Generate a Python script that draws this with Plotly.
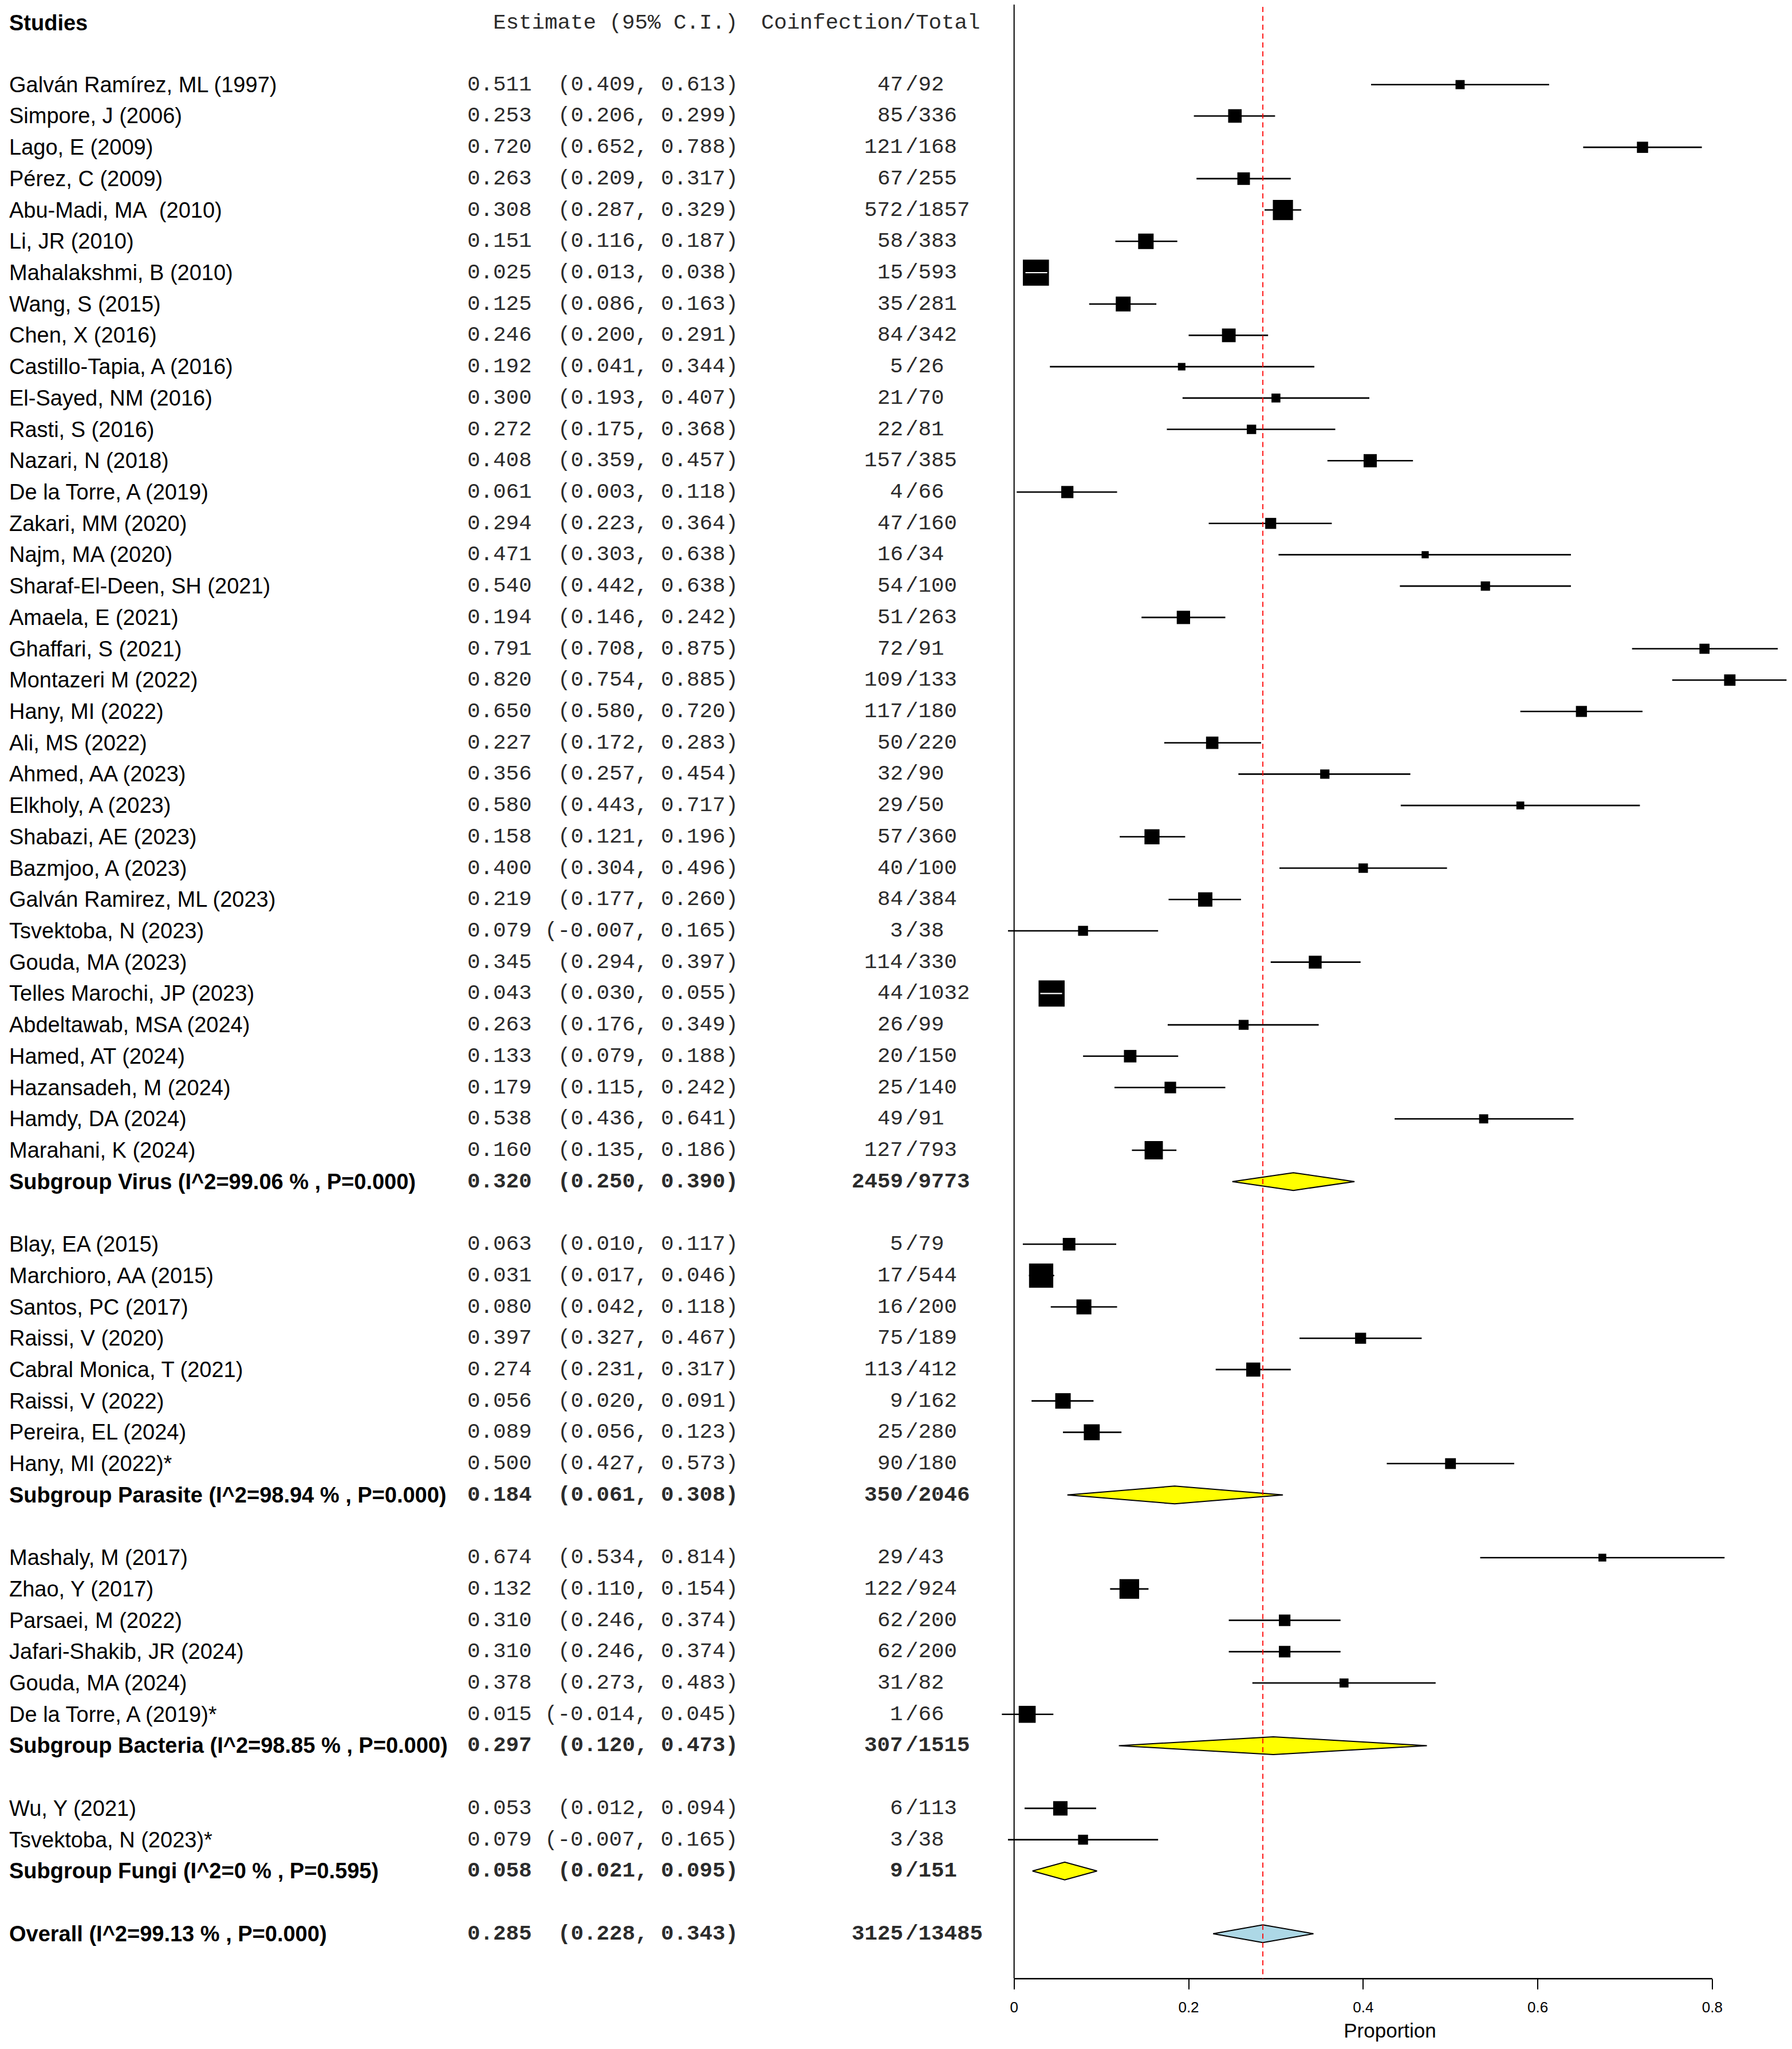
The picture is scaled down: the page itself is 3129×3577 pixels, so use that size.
import plotly.graph_objects as go

# ---------------- data ----------------
virus_names = [
    "Galván Ramírez, ML (1997)", "Simpore, J (2006)", "Lago, E (2009)", "Pérez, C (2009)",
    "Abu-Madi, MA\u00a0 (2010)", "Li, JR (2010)", "Mahalakshmi, B (2010)", "Wang, S (2015)",
    "Chen, X (2016)", "Castillo-Tapia, A (2016)", "El-Sayed, NM (2016)", "Rasti, S (2016)",
    "Nazari, N (2018)", "De la Torre, A (2019)", "Zakari, MM (2020)", "Najm, MA (2020)",
    "Sharaf-El-Deen, SH (2021)", "Amaela, E (2021)", "Ghaffari, S (2021)", "Montazeri M (2022)",
    "Hany, MI (2022)", "Ali, MS (2022)", "Ahmed, AA (2023)", "Elkholy, A (2023)",
    "Shabazi, AE (2023)", "Bazmjoo, A (2023)", "Galván Ramirez, ML (2023)", "Tsvektoba, N (2023)",
    "Gouda, MA (2023)", "Telles Marochi, JP (2023)", "Abdeltawab, MSA (2024)", "Hamed, AT (2024)",
    "Hazansadeh, M (2024)", "Hamdy, DA (2024)", "Marahani, K (2024)",
]
virus_est = [0.511, 0.253, 0.720, 0.263, 0.308, 0.151, 0.025, 0.125, 0.246, 0.192, 0.300, 0.272,
             0.408, 0.061, 0.294, 0.471, 0.540, 0.194, 0.791, 0.820, 0.650, 0.227, 0.356, 0.580,
             0.158, 0.400, 0.219, 0.079, 0.345, 0.043, 0.263, 0.133, 0.179, 0.538, 0.160]
virus_lo = [0.409, 0.206, 0.652, 0.209, 0.287, 0.116, 0.013, 0.086, 0.200, 0.041, 0.193, 0.175,
            0.359, 0.003, 0.223, 0.303, 0.442, 0.146, 0.708, 0.754, 0.580, 0.172, 0.257, 0.443,
            0.121, 0.304, 0.177, -0.007, 0.294, 0.030, 0.176, 0.079, 0.115, 0.436, 0.135]
virus_hi = [0.613, 0.299, 0.788, 0.317, 0.329, 0.187, 0.038, 0.163, 0.291, 0.344, 0.407, 0.368,
            0.457, 0.118, 0.364, 0.638, 0.638, 0.242, 0.875, 0.885, 0.720, 0.283, 0.454, 0.717,
            0.196, 0.496, 0.260, 0.165, 0.397, 0.055, 0.349, 0.188, 0.242, 0.641, 0.186]
virus_events = [47, 85, 121, 67, 572, 58, 15, 35, 84, 5, 21, 22, 157, 4, 47, 16, 54, 51, 72, 109,
                117, 50, 32, 29, 57, 40, 84, 3, 114, 44, 26, 20, 25, 49, 127]
virus_total = [92, 336, 168, 255, 1857, 383, 593, 281, 342, 26, 70, 81, 385, 66, 160, 34, 100, 263,
               91, 133, 180, 220, 90, 50, 360, 100, 384, 38, 330, 1032, 99, 150, 140, 91, 793]

parasite_names = ["Blay, EA (2015)", "Marchioro, AA (2015)", "Santos, PC (2017)", "Raissi, V (2020)",
                  "Cabral Monica, T (2021)", "Raissi, V (2022)", "Pereira, EL (2024)", "Hany, MI (2022)*"]
parasite_est = [0.063, 0.031, 0.080, 0.397, 0.274, 0.056, 0.089, 0.500]
parasite_lo = [0.010, 0.017, 0.042, 0.327, 0.231, 0.020, 0.056, 0.427]
parasite_hi = [0.117, 0.046, 0.118, 0.467, 0.317, 0.091, 0.123, 0.573]
parasite_events = [5, 17, 16, 75, 113, 9, 25, 90]
parasite_total = [79, 544, 200, 189, 412, 162, 280, 180]

bacteria_names = ["Mashaly, M (2017)", "Zhao, Y (2017)", "Parsaei, M (2022)", "Jafari-Shakib, JR (2024)",
                  "Gouda, MA (2024)", "De la Torre, A (2019)*"]
bacteria_est = [0.674, 0.132, 0.310, 0.310, 0.378, 0.015]
bacteria_lo = [0.534, 0.110, 0.246, 0.246, 0.273, -0.014]
bacteria_hi = [0.814, 0.154, 0.374, 0.374, 0.483, 0.045]
bacteria_events = [29, 122, 62, 62, 31, 1]
bacteria_total = [43, 924, 200, 200, 82, 66]

fungi_names = ["Wu, Y (2021)", "Tsvektoba, N (2023)*"]
fungi_est = [0.053, 0.079]
fungi_lo = [0.012, -0.007]
fungi_hi = [0.094, 0.165]
fungi_events = [6, 3]
fungi_total = [113, 38]

subgroup_labels = ["Subgroup Virus (I^2=99.06 % , P=0.000)",
                   "Subgroup Parasite (I^2=98.94 % , P=0.000)",
                   "Subgroup Bacteria (I^2=98.85 % , P=0.000)",
                   "Subgroup Fungi (I^2=0 % , P=0.595)"]
subgroup_est = [0.320, 0.184, 0.297, 0.058]
subgroup_lo = [0.250, 0.061, 0.120, 0.021]
subgroup_hi = [0.390, 0.308, 0.473, 0.095]
subgroup_events = [2459, 350, 307, 9]
subgroup_total = [9773, 2046, 1515, 151]

overall_label = "Overall (I^2=99.13 % , P=0.000)"
overall_est = 0.285
overall_lo = 0.228
overall_hi = 0.343
overall_events = 3125
overall_total = 13485

x_tickvals = [0, 0.2, 0.4, 0.6, 0.8]
x_ticktext = ["0", "0.2", "0.4", "0.6", "0.8"]
col_headers = ["Studies", "Estimate (95% C.I.)", "Coinfection/Total"]
x_title = "Proportion"

# ---------------- layout constants ----------------
W, H = 3129, 3577
SANS = "Liberation Sans, Arial, sans-serif"
MONO = "Liberation Mono, Courier New, monospace"
TXT = 38
MONO_SZ = 37.5
MONO_COL = "#2b2b2b"
X_NAME = 14 / W
X_EST = 931 / W
X_CI = 1291 / W
X_SLASH = 1579 / W
X_COINF_HDR = 1327 / W
PX_PER_UNIT = 1524.0
X0_PX = 1770.7
X_LEFT = -0.03
X_RIGHT = (W - X0_PX) / PX_PER_UNIT
X_DOM0 = (X0_PX + X_LEFT * PX_PER_UNIT) / W
Y_TOP, Y_BOT = -2.70, 60.436
BOX_C = 7.2
DIA_H = 0.283

groups = [
    (virus_names, virus_est, virus_lo, virus_hi, virus_events, virus_total),
    (parasite_names, parasite_est, parasite_lo, parasite_hi, parasite_events, parasite_total),
    (bacteria_names, bacteria_est, bacteria_lo, bacteria_hi, bacteria_events, bacteria_total),
    (fungi_names, fungi_est, fungi_lo, fungi_hi, fungi_events, fungi_total),
]

study_rows = []   # (row, name, est, lo, hi, ev, tot)
summary_rows = []  # (row, label, est, lo, hi, ev, tot, color)
row = 0
for gi, (nm, es, lo, hi, ev, tt) in enumerate(groups):
    for i in range(len(nm)):
        study_rows.append((row, nm[i], es[i], lo[i], hi[i], ev[i], tt[i]))
        row += 1
    summary_rows.append((row, subgroup_labels[gi], subgroup_est[gi], subgroup_lo[gi],
                         subgroup_hi[gi], subgroup_events[gi], subgroup_total[gi], "#FFFF00"))
    row += 2
summary_rows.append((row, overall_label, overall_est, overall_lo, overall_hi,
                     overall_events, overall_total, "#ADD8E6"))

fig = go.Figure()

# CI lines
cx, cy = [], []
for r, nm, e, lo, hi, ev, tt in study_rows:
    cx += [lo, hi, None]
    cy += [r, r, None]
fig.add_trace(go.Scatter(x=cx, y=cy, mode="lines", line=dict(color="black", width=2.6),
                         hoverinfo="skip"))

# boxes (side proportional to 1/sqrt(CI width))
sizes = [BOX_C / (hi - lo) ** 0.5 for r, nm, e, lo, hi, ev, tt in study_rows]
fig.add_trace(go.Scatter(
    x=[s[2] for s in study_rows], y=[s[0] for s in study_rows], mode="markers",
    marker=dict(symbol="square", size=sizes, color="black", opacity=1, line=dict(width=0)),
    hoverinfo="skip"))

# white CI line where the interval lies within the box
wx, wy = [], []
for (r, nm, e, lo, hi, ev, tt), sz in zip(study_rows, sizes):
    half = sz / 2 / PX_PER_UNIT
    if lo > e - half and hi < e + half:
        wx += [lo, hi, None]
        wy += [r, r, None]
if wx:
    fig.add_trace(go.Scatter(x=wx, y=wy, mode="lines", line=dict(color="white", width=2.2),
                             hoverinfo="skip"))

# diamonds
for r, lab, e, lo, hi, ev, tt, col in summary_rows:
    fig.add_trace(go.Scatter(
        x=[lo, e, hi, e, lo], y=[r, r - DIA_H, r, r + DIA_H, r], mode="lines",
        fill="toself", fillcolor=col, line=dict(color="black", width=2), hoverinfo="skip"))

ann = []

def add_text(x, y, text, anchor, family, size, color="black"):
    ann.append(dict(x=x, y=y, xref="paper", yref="y", text=text, showarrow=False,
                    xanchor=anchor, yanchor="middle",
                    font=dict(family=family, size=size, color=color)))

# headers
HDR_Y = -1.96
add_text(X_NAME, HDR_Y, "<b>" + col_headers[0] + "</b>", "left", SANS, TXT)
add_text(X_CI, HDR_Y, col_headers[1], "right", MONO, MONO_SZ, MONO_COL)
add_text(X_COINF_HDR, HDR_Y, col_headers[2], "left", MONO, MONO_SZ, MONO_COL)

def add_row(r, name, e, lo, hi, ev, tt, bold):
    b0, b1 = ("<b>", "</b>") if bold else ("", "")
    add_text(X_NAME, r, b0 + name + b1, "left", SANS, TXT)
    add_text(X_EST, r, b0 + f"{e:.3f}" + b1, "right", MONO, MONO_SZ, MONO_COL)
    add_text(X_CI, r, b0 + f"({lo:.3f}, {hi:.3f})" + b1, "right", MONO, MONO_SZ, MONO_COL)
    add_text(X_SLASH, r, b0 + f"{ev}" + b1, "right", MONO, MONO_SZ, MONO_COL)
    add_text(X_SLASH, r, b0 + f"/{tt}" + b1, "left", MONO, MONO_SZ, MONO_COL)

for s in study_rows:
    add_row(*s, bold=False)
for r, lab, e, lo, hi, ev, tt, col in summary_rows:
    add_row(r, lab, e, lo, hi, ev, tt, bold=True)

shapes = [
    dict(type="line", xref="x", yref="y domain", x0=0, x1=0.8, y0=0, y1=0,
         line=dict(color="black", width=2.5)),
    dict(type="line", xref="x", yref="y", x0=0, x1=0, y0=-2.555, y1=Y_BOT,
         line=dict(color="black", width=2)),
    dict(type="line", xref="x", yref="y", x0=overall_est, x1=overall_est, y0=-2.48, y1=Y_BOT,
         line=dict(color="red", width=1.8, dash="9px,6.5px"), layer="above"),
]

fig.update_layout(
    width=W, height=H, margin=dict(l=0, r=0, t=0, b=0),
    paper_bgcolor="white", plot_bgcolor="white", showlegend=False,
    annotations=ann, shapes=shapes,
    xaxis=dict(domain=[X_DOM0, 1.0], range=[X_LEFT, X_RIGHT], tickvals=x_tickvals,
               ticktext=x_ticktext, ticks="outside", ticklen=18, tickwidth=2, tickcolor="black",
               showline=False, showgrid=False, zeroline=False, automargin=False,
               tickfont=dict(family=SANS, size=26, color="black"), ticklabelstandoff=8,
               title=dict(text=x_title, font=dict(family=SANS, size=35, color="black"), standoff=14)),
    yaxis=dict(domain=[0.0343, 1.0], range=[Y_BOT, Y_TOP], visible=False, showgrid=False,
               zeroline=False, automargin=False),
)

fig.write_html("out.html", post_script="document.body.style.margin='0px';",
               config={"displayModeBar": False})
